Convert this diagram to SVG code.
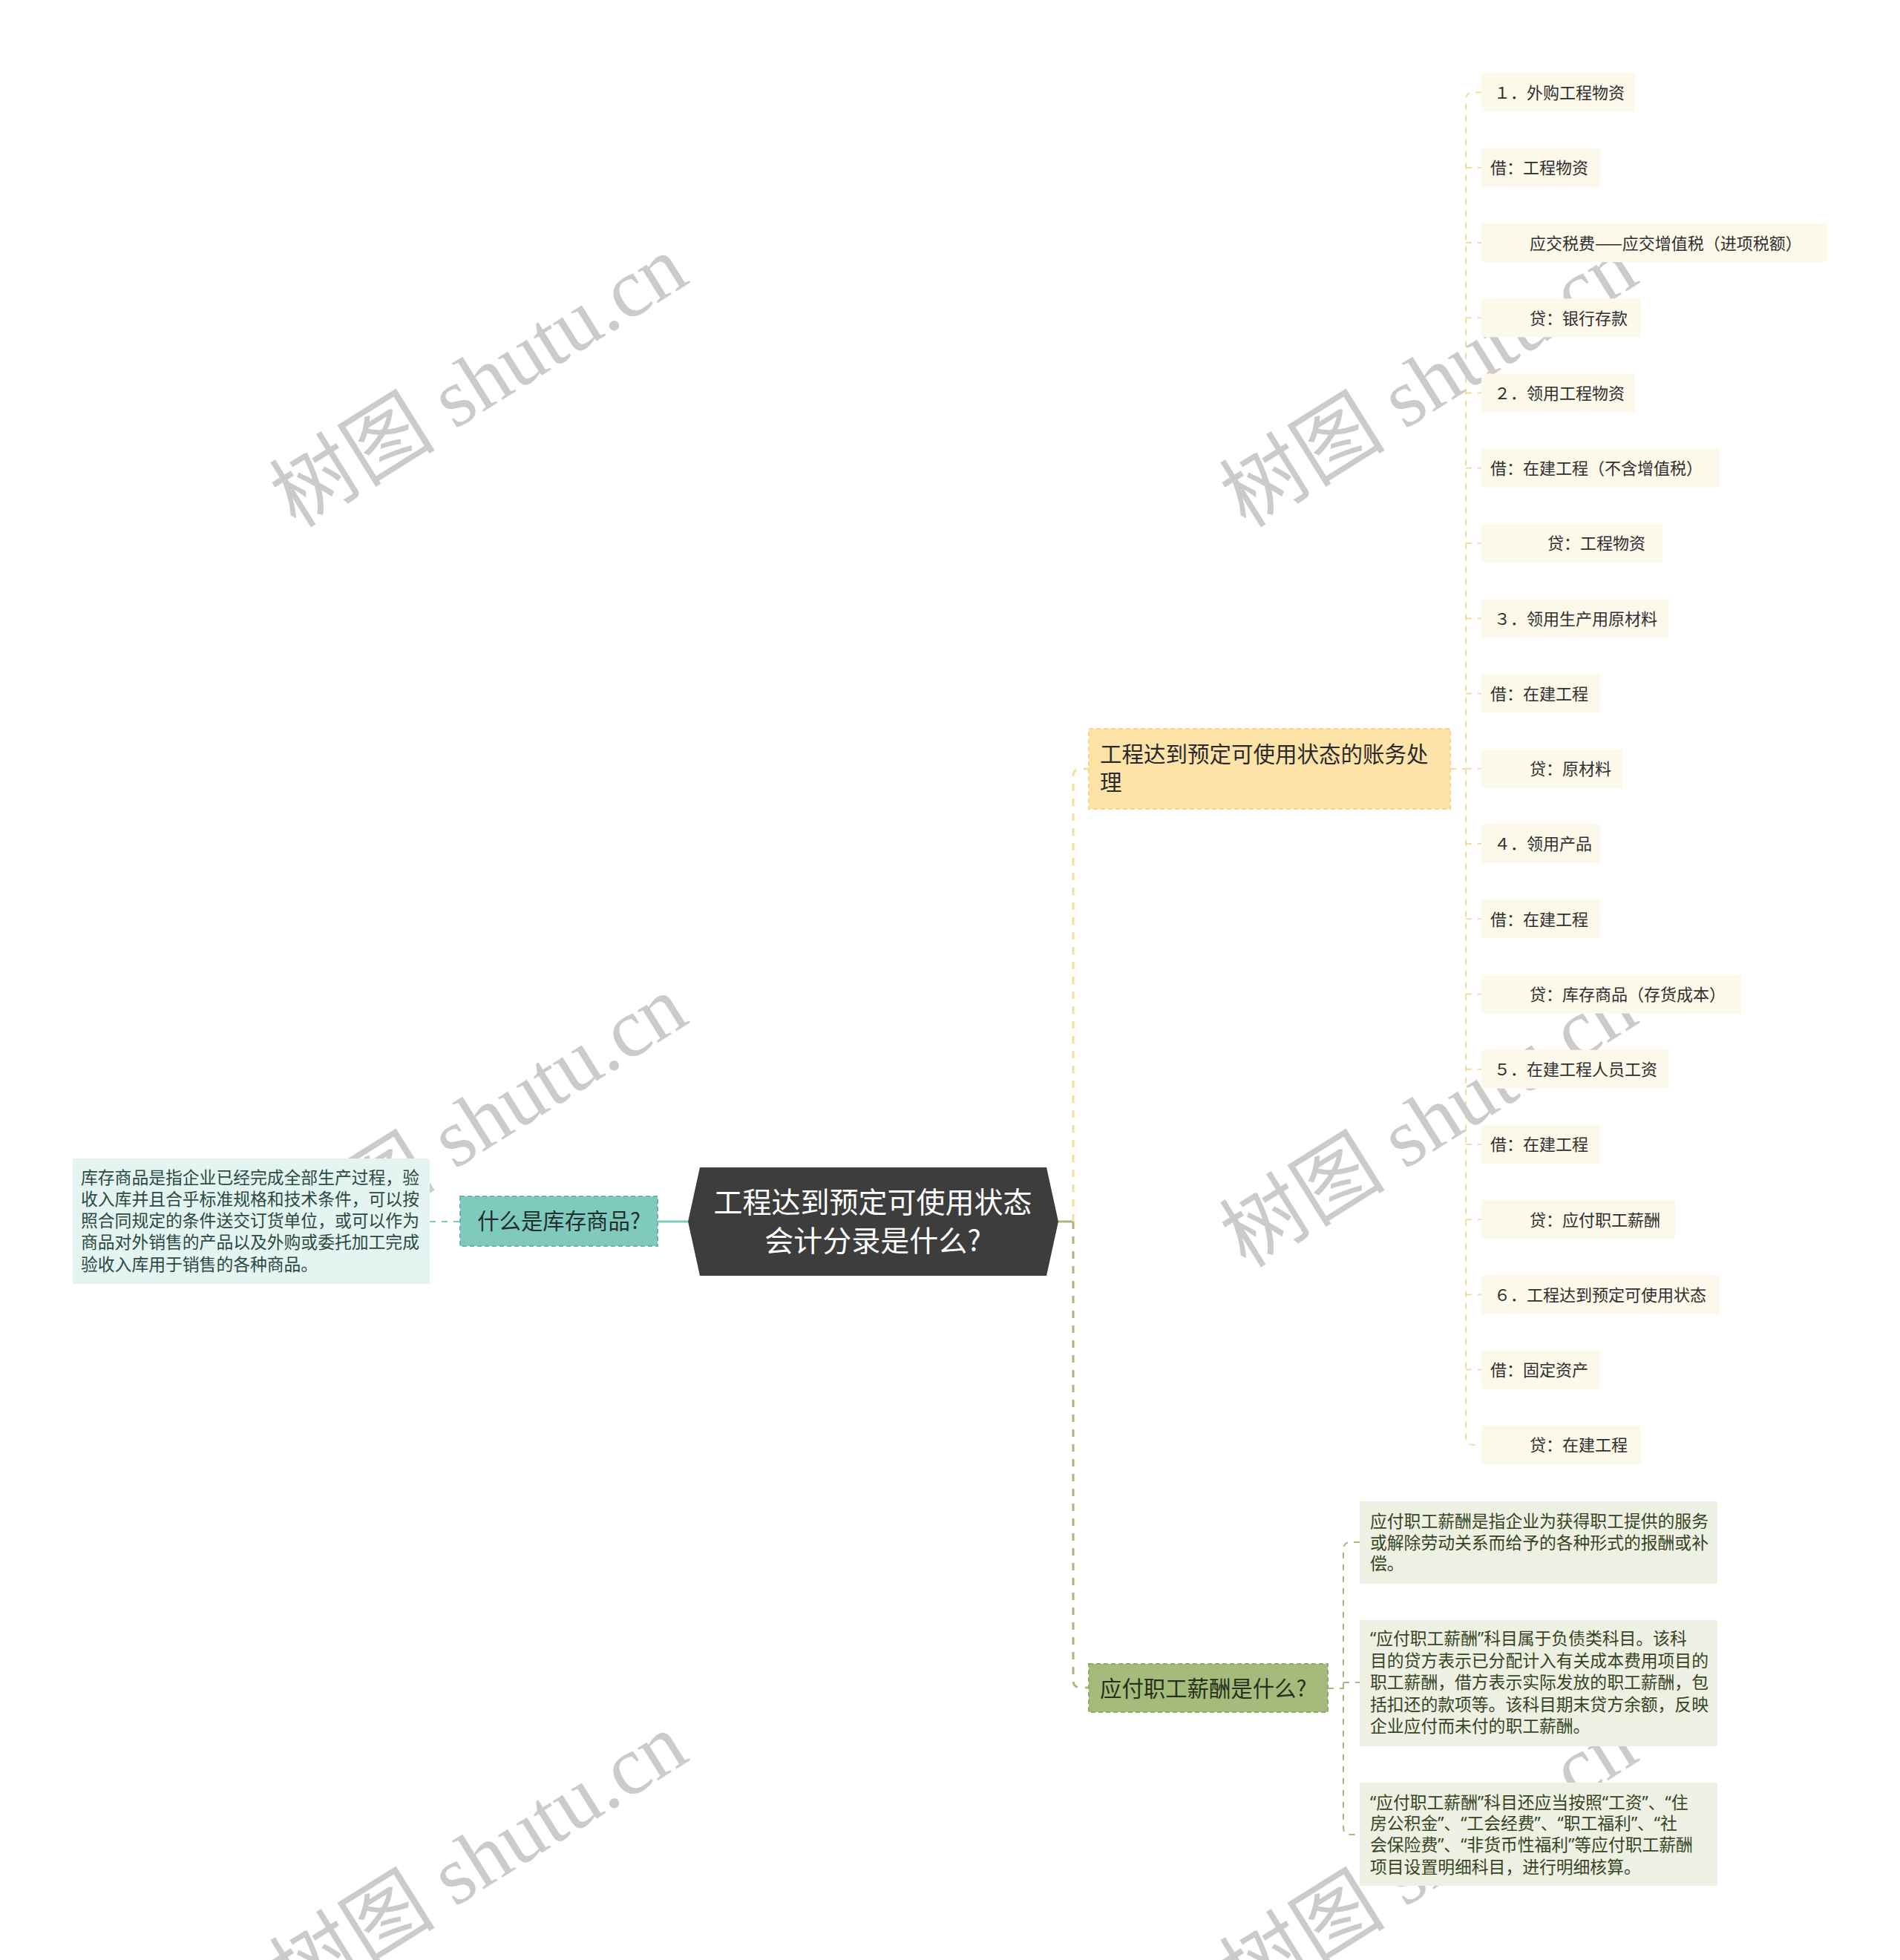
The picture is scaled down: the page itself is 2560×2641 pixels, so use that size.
<svg xmlns="http://www.w3.org/2000/svg" width="2560" height="2641" viewBox="0 0 2560 2641">
<style>
text{font-family:"Noto Sans CJK SC","Noto Sans",sans-serif;dominant-baseline:central}
.wm{font-family:"Liberation Serif","Noto Sans CJK SC",serif;font-size:112px;fill:#cbcbcb}
.c{fill:#fcf8ea}
.ct{font-size:22px;fill:#2f2f2f}
.dt{font-size:22.8px;font-family:"Noto Sans","Noto Sans CJK SC",sans-serif}
.yl{fill:none;stroke:#f5dca0;stroke-width:2;stroke-dasharray:8 8}
.gl{fill:none;stroke:#a4b97c;stroke-width:2;stroke-dasharray:8 8}
</style>
<rect width="2560" height="2641" fill="#ffffff"/>
<g id="connectors">
<line x1="886" y1="1646" x2="927" y2="1646" stroke="#7fcabd" stroke-width="3"/>
<line x1="579" y1="1646" x2="620" y2="1646" stroke="#7fcabd" stroke-width="2" stroke-dasharray="8 8"/>
<line x1="1426" y1="1646" x2="1446" y2="1646" stroke="#a4b97c" stroke-width="3"/>
<path d="M1446,1646 V1046 Q1446,1036 1456,1036 H1467" fill="none" stroke="#f7dda0" stroke-width="3" stroke-dasharray="10 10"/>
<path d="M1446,1646 V2264 Q1446,2274 1456,2274 H1467" fill="none" stroke="#a4b97c" stroke-width="3" stroke-dasharray="10 10"/>
<line x1="1954" y1="1036" x2="1975" y2="1036" class="yl"/>
<path class="yl" d="M1996,124.6 H1985 Q1975,124.6 1975,134.6 V1936.9 Q1975,1946.9 1985,1946.9 H1996"/>
<path class="yl" d="M1975,225.9H1996 M1975,327.1H1996 M1975,428.3H1996 M1975,529.6H1996 M1975,630.8H1996 M1975,732H1996 M1975,833.3H1996 M1975,934.5H1996 M1975,1035.8H1996 M1975,1137H1996 M1975,1238.2H1996 M1975,1339.5H1996 M1975,1440.7H1996 M1975,1541.9H1996 M1975,1643.2H1996 M1975,1744.4H1996 M1975,1845.6H1996"/>
<line x1="1789" y1="2275" x2="1810" y2="2275" class="gl"/>
<path class="gl" d="M1832,2078 H1820 Q1810,2078 1810,2088 V2462 Q1810,2472 1820,2472 H1832 M1810,2267 H1832"/>
</g>
<g id="watermarks">
<text class="wm" x="645" y="514" text-anchor="middle" transform="rotate(-32 645 514)">树图 shutu.cn</text>
<text class="wm" x="1925" y="514" text-anchor="middle" transform="rotate(-32 1925 514)">树图 shutu.cn</text>
<text class="wm" x="645" y="1511" text-anchor="middle" transform="rotate(-32 645 1511)">树图 shutu.cn</text>
<text class="wm" x="1925" y="1511" text-anchor="middle" transform="rotate(-32 1925 1511)">树图 shutu.cn</text>
<text class="wm" x="645" y="2505" text-anchor="middle" transform="rotate(-32 645 2505)">树图 shutu.cn</text>
<text class="wm" x="1925" y="2505" text-anchor="middle" transform="rotate(-32 1925 2505)">树图 shutu.cn</text>
</g>
<g id="root">
<polygon points="927,1646 943,1573 1410,1573 1426,1646 1410,1719 943,1719" fill="#3d3d3d"/>
<text x="1176" y="1617" text-anchor="middle" font-size="39" fill="#ffffff">工程达到预定可使用状态</text>
<text x="1176" y="1669" text-anchor="middle" font-size="39" fill="#ffffff">会计分录是什么?</text>
</g>
<g id="n-kucun">
<rect x="620" y="1612" width="266" height="67" fill="#7fcabd" stroke="#6cb6a9" stroke-width="2" stroke-dasharray="6 4"/>
<text x="753" y="1643" text-anchor="middle" font-size="29.4" fill="#1f2f2b">什么是库存商品?</text>
</g>
<g id="n-kucun-desc">
<rect x="98" y="1561" width="481" height="169" fill="#e4f4f1"/>
<text class="dt" fill="#2b4a42"><tspan x="109" y="1586">库存商品是指企业已经完成全部生产过程，验</tspan><tspan x="109" y="1615">收入库并且合乎标准规格和技术条件，可以按</tspan><tspan x="109" y="1644">照合同规定的条件送交订货单位，或可以作为</tspan><tspan x="109" y="1673">商品对外销售的产品以及外购或委托加工完成</tspan><tspan x="109" y="1703">验收入库用于销售的各种商品。</tspan></text>
</g>
<g id="n-zhangwu">
<rect x="1467" y="982" width="487" height="108" fill="#fde3a8" stroke="#f6d592" stroke-width="2" stroke-dasharray="6 4"/>
<text font-size="29.5" fill="#2a2a2a"><tspan x="1482" y="1014">工程达到预定可使用状态的账务处</tspan><tspan x="1482" y="1052">理</tspan></text>
</g>
<g id="n-xinchou">
<rect x="1467" y="2242" width="322" height="65" fill="#a5bb7b" stroke="#93a96a" stroke-width="2" stroke-dasharray="6 4"/>
<text x="1482" y="2273" font-size="29.4" fill="#26301a">应付职工薪酬是什么?</text>
</g>
<g id="c1"><rect class="c" x="1996" y="98.6" width="207" height="52"/><text class="ct" x="2013" y="123">１．外购工程物资</text></g>
<g id="c2"><rect class="c" x="1996" y="199.9" width="160" height="52"/><text class="ct" x="2008" y="224.3">借：工程物资</text></g>
<g id="c3"><rect class="c" x="1996" y="301.1" width="466" height="52"/><text class="ct" x="2061" y="325.5">应交税费——应交增值税（进项税额）</text></g>
<g id="c4"><rect class="c" x="1996" y="402.3" width="215" height="52"/><text class="ct" x="2061" y="426.7">贷：银行存款</text></g>
<g id="c5"><rect class="c" x="1996" y="503.6" width="207" height="52"/><text class="ct" x="2013" y="528">２．领用工程物资</text></g>
<g id="c6"><rect class="c" x="1996" y="604.8" width="321" height="52"/><text class="ct" x="2008" y="629.2">借：在建工程（不含增值税）</text></g>
<g id="c7"><rect class="c" x="1996" y="706" width="244" height="52"/><text class="ct" x="2085" y="730.4">贷：工程物资</text></g>
<g id="c8"><rect class="c" x="1996" y="807.3" width="252" height="52"/><text class="ct" x="2013" y="831.7">３．领用生产用原材料</text></g>
<g id="c9"><rect class="c" x="1996" y="908.5" width="160" height="52"/><text class="ct" x="2008" y="932.9">借：在建工程</text></g>
<g id="c10"><rect class="c" x="1996" y="1009.8" width="190" height="52"/><text class="ct" x="2061" y="1034.2">贷：原材料</text></g>
<g id="c11"><rect class="c" x="1996" y="1111" width="160" height="52"/><text class="ct" x="2013" y="1135.4">４．领用产品</text></g>
<g id="c12"><rect class="c" x="1996" y="1212.2" width="160" height="52"/><text class="ct" x="2008" y="1236.6">借：在建工程</text></g>
<g id="c13"><rect class="c" x="1996" y="1313.5" width="350" height="52"/><text class="ct" x="2061" y="1337.9">贷：库存商品（存货成本）</text></g>
<g id="c14"><rect class="c" x="1996" y="1414.7" width="252" height="52"/><text class="ct" x="2013" y="1439.1">５．在建工程人员工资</text></g>
<g id="c15"><rect class="c" x="1996" y="1515.9" width="160" height="52"/><text class="ct" x="2008" y="1540.3">借：在建工程</text></g>
<g id="c16"><rect class="c" x="1996" y="1617.2" width="261" height="52"/><text class="ct" x="2061" y="1641.6">贷：应付职工薪酬</text></g>
<g id="c17"><rect class="c" x="1996" y="1718.4" width="321" height="52"/><text class="ct" x="2013" y="1742.8">６．工程达到预定可使用状态</text></g>
<g id="c18"><rect class="c" x="1996" y="1819.6" width="160" height="52"/><text class="ct" x="2008" y="1844">借：固定资产</text></g>
<g id="c19"><rect class="c" x="1996" y="1920.9" width="215" height="52"/><text class="ct" x="2061" y="1945.3">贷：在建工程</text></g>
<g id="g1">
<rect x="1832" y="2023" width="482" height="111" fill="#edf0e3"/>
<text class="dt" fill="#36451f"><tspan x="1846" y="2049">应付职工薪酬是指企业为获得职工提供的服务</tspan><tspan x="1846" y="2078">或解除劳动关系而给予的各种形式的报酬或补</tspan><tspan x="1846" y="2106">偿。</tspan></text>
</g>
<g id="g2">
<rect x="1832" y="2183" width="482" height="170" fill="#edf0e3"/>
<text class="dt" fill="#36451f"><tspan x="1846" y="2207">“应付职工薪酬”科目属于负债类科目。该科</tspan><tspan x="1846" y="2237">目的贷方表示已分配计入有关成本费用项目的</tspan><tspan x="1846" y="2266">职工薪酬，借方表示实际发放的职工薪酬，包</tspan><tspan x="1846" y="2296">括扣还的款项等。该科目期末贷方余额，反映</tspan><tspan x="1846" y="2325">企业应付而未付的职工薪酬。</tspan></text>
</g>
<g id="g3">
<rect x="1832" y="2402" width="482" height="139" fill="#edf0e3"/>
<text class="dt" fill="#36451f"><tspan x="1846" y="2428">“应付职工薪酬”科目还应当按照“工资”、“住</tspan><tspan x="1846" y="2456">房公积金”、“工会经费”、“职工福利”、“社</tspan><tspan x="1846" y="2485">会保险费”、“非货币性福利”等应付职工薪酬</tspan><tspan x="1846" y="2515">项目设置明细科目，进行明细核算。</tspan></text>
</g>
</svg>
